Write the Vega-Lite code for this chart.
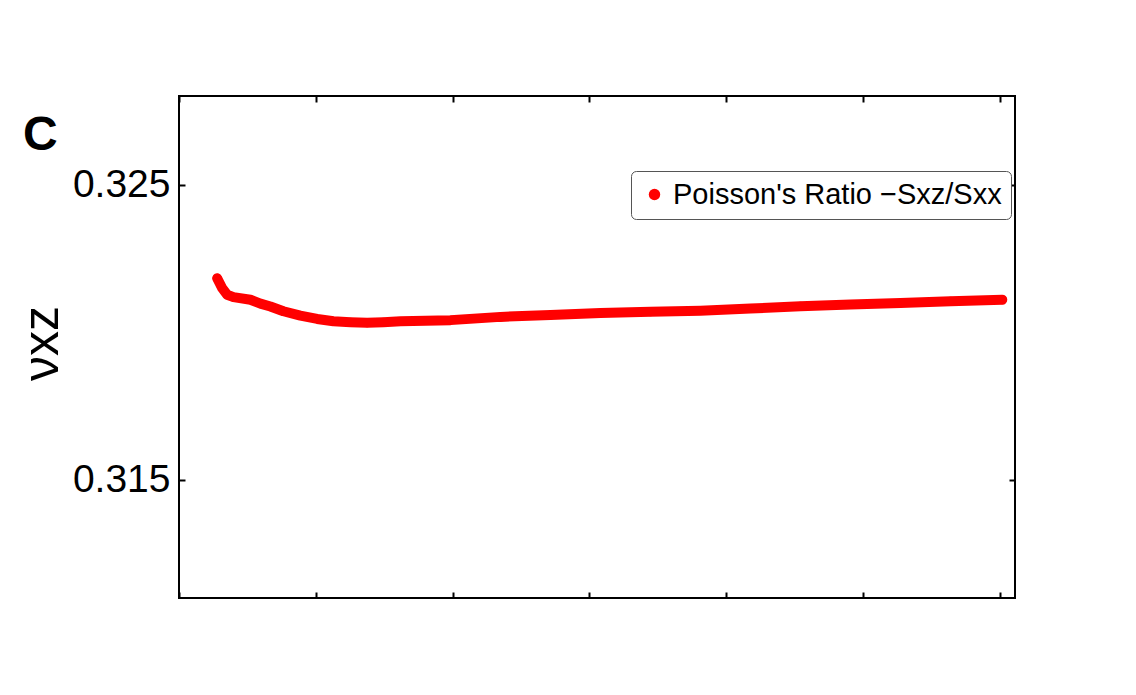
{
  "$schema": "https://vega.github.io/schema/vega-lite/v6.json",
  "width": 836,
  "height": 502,
  "autosize": "none",
  "padding": {"left": 179, "top": 96, "right": 121, "bottom": 97},
  "background": "white",
  "config": {
    "view": {"stroke": "black", "strokeWidth": 2},
    "font": "Liberation Sans",
    "axis": {
      "grid": false,
      "domain": false,
      "tickColor": "black",
      "tickWidth": 2,
      "tickSize": -6,
      "labelFont": "Liberation Sans",
      "labelColor": "black",
      "titleFont": "Liberation Sans",
      "titleColor": "black"
    }
  },
  "title": {
    "text": "C",
    "anchor": "start",
    "frame": "group",
    "orient": "top",
    "offset": 0,
    "dx": -156,
    "dy": 103,
    "baseline": "alphabetic",
    "fontSize": 48,
    "fontWeight": "bold",
    "font": "Liberation Sans",
    "color": "black"
  },
  "data": {
    "values": [
      {"x": 0.279, "v": 0.32183, "series": "Poisson's Ratio −Sxz/Sxx"},
      {"x": 0.315, "v": 0.3215, "series": "Poisson's Ratio −Sxz/Sxx"},
      {"x": 0.352, "v": 0.32127, "series": "Poisson's Ratio −Sxz/Sxx"},
      {"x": 0.398, "v": 0.32119, "series": "Poisson's Ratio −Sxz/Sxx"},
      {"x": 0.522, "v": 0.3211, "series": "Poisson's Ratio −Sxz/Sxx"},
      {"x": 0.595, "v": 0.32097, "series": "Poisson's Ratio −Sxz/Sxx"},
      {"x": 0.668, "v": 0.32087, "series": "Poisson's Ratio −Sxz/Sxx"},
      {"x": 0.763, "v": 0.32071, "series": "Poisson's Ratio −Sxz/Sxx"},
      {"x": 0.887, "v": 0.32056, "series": "Poisson's Ratio −Sxz/Sxx"},
      {"x": 1.01, "v": 0.32045, "series": "Poisson's Ratio −Sxz/Sxx"},
      {"x": 1.129, "v": 0.32037, "series": "Poisson's Ratio −Sxz/Sxx"},
      {"x": 1.253, "v": 0.32034, "series": "Poisson's Ratio −Sxz/Sxx"},
      {"x": 1.375, "v": 0.32032, "series": "Poisson's Ratio −Sxz/Sxx"},
      {"x": 1.494, "v": 0.32034, "series": "Poisson's Ratio −Sxz/Sxx"},
      {"x": 1.619, "v": 0.32037, "series": "Poisson's Ratio −Sxz/Sxx"},
      {"x": 1.985, "v": 0.32041, "series": "Poisson's Ratio −Sxz/Sxx"},
      {"x": 2.35, "v": 0.32052, "series": "Poisson's Ratio −Sxz/Sxx"},
      {"x": 2.715, "v": 0.32058, "series": "Poisson's Ratio −Sxz/Sxx"},
      {"x": 3.08, "v": 0.32065, "series": "Poisson's Ratio −Sxz/Sxx"},
      {"x": 3.446, "v": 0.32069, "series": "Poisson's Ratio −Sxz/Sxx"},
      {"x": 3.811, "v": 0.32073, "series": "Poisson's Ratio −Sxz/Sxx"},
      {"x": 4.177, "v": 0.3208, "series": "Poisson's Ratio −Sxz/Sxx"},
      {"x": 4.542, "v": 0.32088, "series": "Poisson's Ratio −Sxz/Sxx"},
      {"x": 4.908, "v": 0.32094, "series": "Poisson's Ratio −Sxz/Sxx"},
      {"x": 5.273, "v": 0.32099, "series": "Poisson's Ratio −Sxz/Sxx"},
      {"x": 5.639, "v": 0.32105, "series": "Poisson's Ratio −Sxz/Sxx"},
      {"x": 6.017, "v": 0.3211, "series": "Poisson's Ratio −Sxz/Sxx"}
    ]
  },
  "layer": [
    {
      "mark": {"type": "line", "color": "#ff0000", "strokeWidth": 10, "strokeCap": "round", "strokeJoin": "round"},
      "encoding": {
        "x": {
          "field": "x", "type": "quantitative",
          "scale": {"domain": [0, 6.11], "nice": false, "zero": false},
          "axis": {"orient": "bottom", "values": [0, 1, 2, 3, 4, 5, 6], "labels": false, "title": null}
        },
        "y": {
          "field": "v", "type": "quantitative",
          "scale": {"domain": [0.311, 0.328], "nice": false, "zero": false},
          "axis": {
            "orient": "left", "values": [0.315, 0.325], "format": ".3f",
            "labelFontSize": 39, "labelPadding": 15,
            "title": "νxz", "titleFontSize": 50, "titleAngle": -90,
            "titleBaseline": "alphabetic", "titleAlign": "center",
            "titleX": -122, "titleY": 247, "titleFontWeight": "normal"
          }
        }
      }
    },
    {
      "mark": {"type": "point", "filled": true, "size": 78, "opacity": 1},
      "encoding": {
        "x": {
          "field": "x", "type": "quantitative",
          "axis": {"orient": "top", "values": [0, 1, 2, 3, 4, 5, 6], "labels": false, "title": null}
        },
        "y": {
          "field": "v", "type": "quantitative",
          "axis": {"orient": "right", "values": [0.315, 0.325], "labels": false, "title": null}
        },
        "color": {
          "field": "series", "type": "nominal",
          "scale": {"range": ["#ff0000"]},
          "legend": {
            "orient": "none", "legendX": 452, "legendY": 75,
            "title": null, "symbolType": "circle", "symbolSize": 130,
            "symbolStrokeWidth": 0, "symbolFillColor": "#ff0000", "symbolOpacity": 1,
            "labelFontSize": 29, "labelFont": "Liberation Sans", "labelColor": "black",
            "labelOffset": 4, "padding": 9, "strokeColor": "#555555",
            "cornerRadius": 5, "fillColor": "white", "labelLimit": 600
          }
        }
      }
    }
  ]
}
